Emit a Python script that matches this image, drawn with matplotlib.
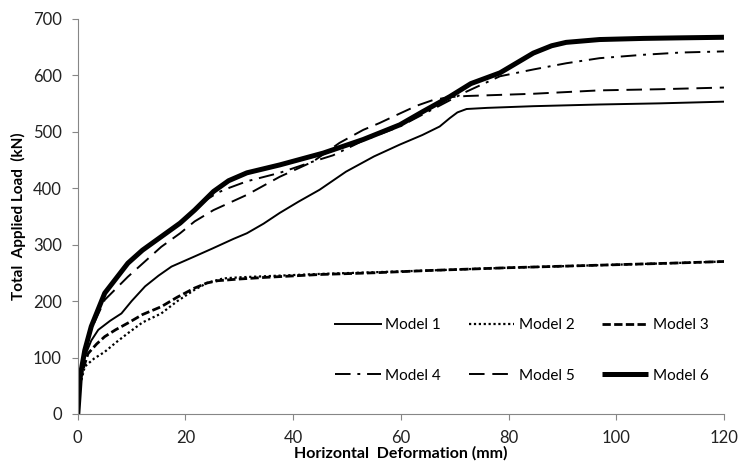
import numpy as np
import matplotlib
matplotlib.use("Agg")
import matplotlib.pyplot as plt

plt.rcParams['font.family'] = ['Lato', 'DejaVu Sans']

# data (x: horizontal deformation in mm, y: load in kN)
m1_x = [0, 0.5, 1.3, 2.5, 3.8, 6, 8.1, 10, 12.5, 15, 17.4, 21.7, 25, 28.9, 31.4, 34.5,
        37.5, 41, 44.9, 49.8, 55, 59.8, 64, 67.2, 69.1, 70.5, 72.2, 76, 84.6, 96.9, 108, 120]
m1_y = [0, 70, 102, 130, 149, 165, 178, 200, 226, 245, 261, 279, 293, 310, 320, 337,
        356, 376, 397, 429, 456, 477, 494, 509, 524, 534, 540, 542, 545, 548, 550, 553]

m2_x = [0, 0.4, 1.3, 3, 5, 7, 9.3, 12, 15.5, 18.5, 21.7, 24, 27, 30, 35, 45, 55, 65,
        80, 95, 110, 120]
m2_y = [0, 50, 84, 98, 110, 126, 143, 162, 178, 200, 220, 232, 240, 242, 244, 248, 251, 254,
        259, 263, 267, 270]

m3_x = [0, 0.5, 1.9, 3.5, 5, 7, 9.3, 12, 15.5, 18.5, 21.7, 24, 26, 30, 35, 45, 55, 65,
        80, 95, 110, 120]
m3_y = [0, 65, 107, 124, 137, 149, 161, 176, 190, 207, 223, 232, 236, 239, 242, 247, 250, 254,
        259, 263, 267, 270]

m4_x = [0, 0.5, 1.3, 2.5, 5, 9.3, 12, 15.5, 19, 21.7, 24, 26, 28, 31.4, 37.5, 43.7, 47.4,
        53, 59.8, 66, 72, 78.4, 84.6, 90.7, 96.9, 105, 112, 120]
m4_y = [0, 70, 113, 155, 214, 267, 290, 314, 338, 361, 380, 392, 400, 412, 427, 447, 458,
        484, 509, 540, 570, 598, 610, 621, 630, 636, 640, 642]

m5_x = [0, 0.5, 1.3, 2.5, 5, 9.3, 15.5, 19, 21.7, 25.2, 31.4, 37.5, 43.7, 48.6, 53, 56,
        59.8, 63, 66, 69, 72.2, 84.6, 96.9, 108, 120]
m5_y = [0, 65, 110, 150, 202, 243, 296, 320, 341, 361, 388, 420, 447, 480, 503, 515,
        532, 546, 556, 561, 563, 567, 573, 575, 578]

m6_x = [0, 0.5, 1.3, 2.5, 5, 9.3, 12, 15.5, 19, 21.7, 25.2, 28, 31.4, 37.5, 45.6, 53,
        59.8, 64, 69.1, 73, 78.4, 84.6, 88, 90.7, 96.9, 105, 112, 120]
m6_y = [0, 70, 113, 155, 214, 267, 290, 314, 338, 361, 394, 413, 427, 441, 462, 486,
        512, 535, 562, 585, 604, 639, 652, 658, 663, 665, 666, 667]

fig = plt.figure(figsize=(7.41, 4.66), dpi=100)
ax = fig.add_axes([0.105, 0.1116, 0.872, 0.8484])

l1, = ax.plot(m1_x, m1_y, color='black', lw=1.4, label='Model 1')
l2, = ax.plot(m2_x, m2_y, color='black', lw=1.6, linestyle=(0, (1, 1.2)), label='Model 2')
l3, = ax.plot(m3_x, m3_y, color='black', lw=2.0, linestyle=(0, (3, 1.2)), label='Model 3')
l4, = ax.plot(m4_x, m4_y, color='black', lw=1.4, linestyle=(0, (8, 3.5, 1.5, 3.5)), label='Model 4')
l5, = ax.plot(m5_x, m5_y, color='black', lw=1.4, linestyle=(0, (8, 4)), label='Model 5')
l6, = ax.plot(m6_x, m6_y, color='black', lw=3.6, solid_capstyle='butt', label='Model 6')

ax.set_xlim(0, 120)
ax.set_ylim(0, 700)
ax.set_xticks(np.arange(0, 121, 20))
ax.set_yticks(np.arange(0, 701, 100))

for s in ['top', 'right']:
    ax.spines[s].set_visible(False)
for s in ['left', 'bottom']:
    ax.spines[s].set_color('#868686')
    ax.spines[s].set_linewidth(0.8)
ax.tick_params(colors='#868686', labelcolor='#222222', labelsize=12, length=4.5, width=0.8)
ax.tick_params(axis='x', pad=7)
ax.tick_params(axis='y', pad=7)

ax.set_xlabel('Horizontal  Deformation (mm)', fontsize=11.5, fontweight='bold', labelpad=0)
ax.set_ylabel('Total  Applied Load  (kN)', fontsize=11, fontweight='bold', labelpad=5)

# legend fills column by column, so order the handles to read row by row
hs = [l1, l4, l2, l5, l3, l6]
ax.legend(hs, [h.get_label() for h in hs], ncol=3, loc='upper left',
          bbox_to_anchor=(0.398, 0.243), frameon=False,
          fontsize=11, handlelength=3.0, handletextpad=0.3, columnspacing=1.8,
          labelspacing=2.4, borderpad=0, borderaxespad=0)

fig.savefig('out.png', dpi=100)
